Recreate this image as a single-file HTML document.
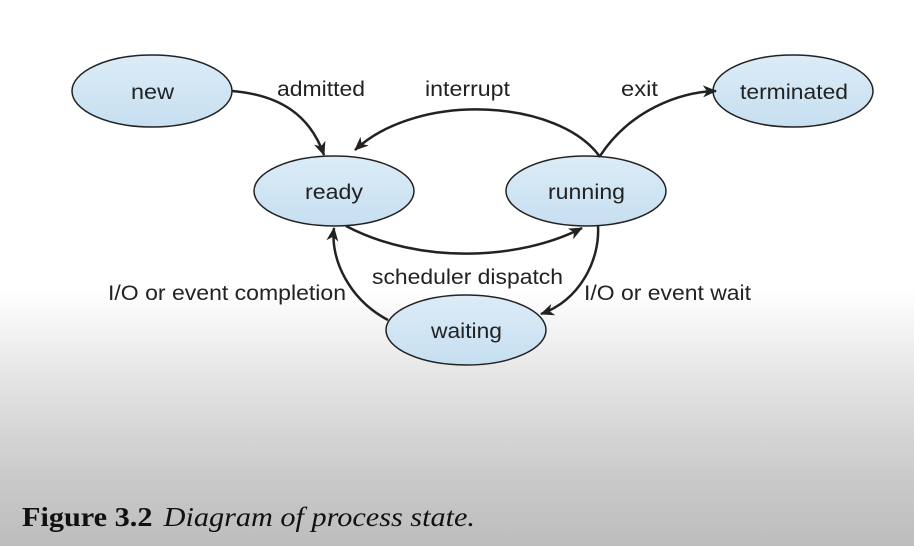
<!DOCTYPE html>
<html><head><style>
html,body{margin:0;padding:0;}
body{width:914px;height:546px;overflow:hidden;background:linear-gradient(to bottom,#fff 0px,#fff 290px,#e4e4e4 380px,#c9c9c9 480px,#bdbdbd 546px);position:relative;}
svg{position:absolute;left:0;top:0;}
</style></head><body>
<svg width="914" height="546" viewBox="0 0 914 546">
<defs>
<linearGradient id="g" x1="0" y1="0" x2="0" y2="1"><stop offset="0" stop-color="#dcecf8"/><stop offset="1" stop-color="#c6dff0"/></linearGradient>
<marker id="a" markerWidth="14" markerHeight="12" refX="13" refY="6" orient="auto" markerUnits="userSpaceOnUse"><path d="M0,0 L14,6 L0,12 L4,6z" fill="#222"/></marker>
</defs>
<g fill="url(#g)" stroke="#222" stroke-width="1.5">
<ellipse cx="152" cy="91" rx="80" ry="36"/>
<ellipse cx="334" cy="191" rx="80" ry="35"/>
<ellipse cx="586" cy="191" rx="80" ry="35"/>
<ellipse cx="793" cy="91" rx="80" ry="36"/>
<ellipse cx="466" cy="330" rx="80" ry="35"/>
</g>
<g fill="none" stroke="#222" stroke-width="2.5" marker-end="url(#a)">
<path d="M232,91 C280,95 310,115 324,155"/>
<path d="M600,157 C560,100 420,90 355,150"/>
<path d="M600,156 C630,110 680,92 716,91"/>
<path d="M346,226 C420,265 520,260 582,228"/>
<path d="M598,226 C600,260 580,300 541,314"/>
<path d="M388,320 C350,300 330,260 334,228"/>
</g>
<g font-family="Liberation Sans, sans-serif" font-size="21" fill="#222">
<text x="131" y="99" textLength="43" lengthAdjust="spacingAndGlyphs">new</text>
<text x="305" y="199" textLength="58" lengthAdjust="spacingAndGlyphs">ready</text>
<text x="548" y="199" textLength="77" lengthAdjust="spacingAndGlyphs">running</text>
<text x="740" y="99" textLength="108" lengthAdjust="spacingAndGlyphs">terminated</text>
<text x="431" y="338" textLength="71" lengthAdjust="spacingAndGlyphs">waiting</text>
<text x="277" y="96" textLength="88" lengthAdjust="spacingAndGlyphs">admitted</text>
<text x="425" y="96" textLength="85" lengthAdjust="spacingAndGlyphs">interrupt</text>
<text x="621" y="96" textLength="37" lengthAdjust="spacingAndGlyphs">exit</text>
<text x="372" y="284" textLength="191" lengthAdjust="spacingAndGlyphs">scheduler dispatch</text>
<text x="108" y="300" textLength="238" lengthAdjust="spacingAndGlyphs">I/O or event completion</text>
<text x="584" y="300" textLength="167" lengthAdjust="spacingAndGlyphs">I/O or event wait</text>
</g>
<text x="22" y="526" font-family="Liberation Serif, serif" font-size="27" fill="#111" textLength="453" lengthAdjust="spacingAndGlyphs"><tspan font-weight="bold">Figure 3.2</tspan><tspan dx="10" font-style="italic">Diagram of process state.</tspan></text>
</svg>
</body></html>
